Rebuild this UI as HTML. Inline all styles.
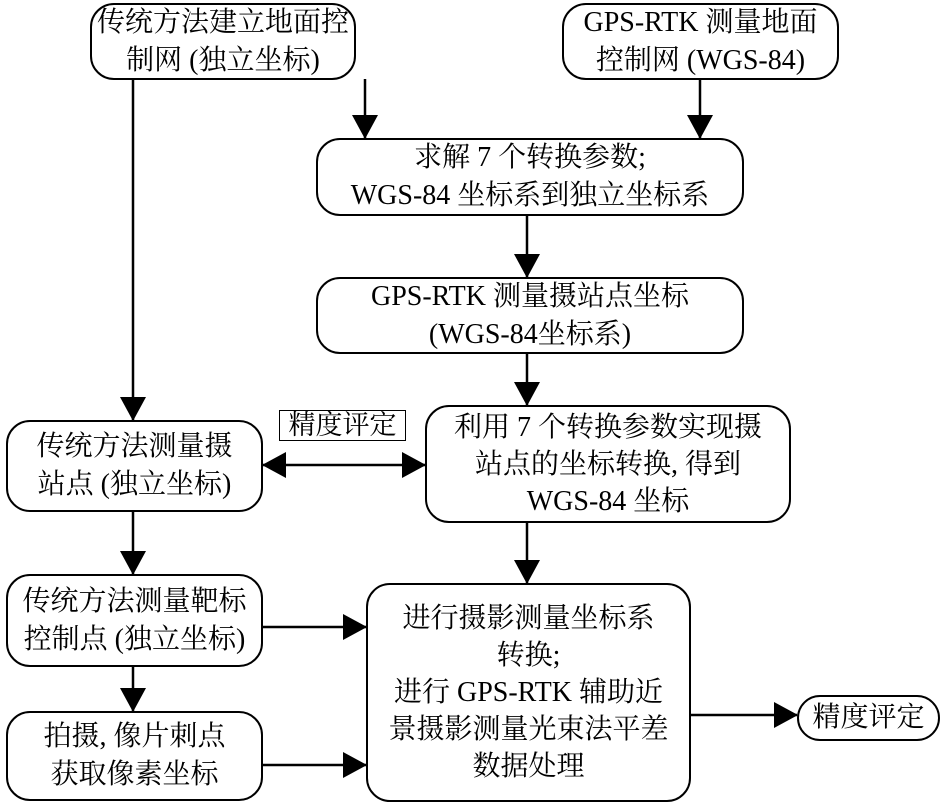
<!DOCTYPE html>
<html><head><meta charset="utf-8"><style>
body{margin:0;width:945px;height:807px;background:#fff;position:relative;overflow:hidden;font-family:"Liberation Serif","Noto Serif CJK SC","Noto Sans CJK SC",serif;color:#000}
.b{position:absolute;box-sizing:border-box;border:2px solid #000;border-radius:24px;display:flex;align-items:center;justify-content:center;text-align:center;font-size:28px;line-height:38px;background:#fff}
svg{position:absolute;left:0;top:0}
</style></head><body>
<svg width="945" height="807">
<defs><marker id="a" markerWidth="10" markerHeight="10" refX="9" refY="5" orient="auto" markerUnits="userSpaceOnUse" viewBox="0 0 10 10"><path d="M0,0L10,5L0,10z"/></marker>
<marker id="h" viewBox="0 0 24 26" refX="23" refY="13" markerWidth="24" markerHeight="26" orient="auto-start-reverse" markerUnits="userSpaceOnUse"><path d="M0,0L24,13L0,26z"/></marker></defs>
<g stroke="#000" stroke-width="2.5" fill="none">
<line x1="133" y1="79" x2="133" y2="420" marker-end="url(#h)"/>
<line x1="365" y1="79" x2="365" y2="138" marker-end="url(#h)"/>
<line x1="700" y1="79" x2="700" y2="138" marker-end="url(#h)"/>
<line x1="527" y1="216" x2="527" y2="277" marker-end="url(#h)"/>
<line x1="527" y1="354" x2="527" y2="405" marker-end="url(#h)"/>
<line x1="263" y1="465" x2="425" y2="465" marker-start="url(#h)" marker-end="url(#h)"/>
<line x1="133" y1="512" x2="133" y2="574" marker-end="url(#h)"/>
<line x1="133" y1="667" x2="133" y2="711" marker-end="url(#h)"/>
<line x1="527" y1="523" x2="527" y2="583" marker-end="url(#h)"/>
<line x1="262" y1="627" x2="366" y2="627" marker-end="url(#h)"/>
<line x1="262" y1="765" x2="366" y2="765" marker-end="url(#h)"/>
<line x1="690" y1="715" x2="797" y2="715" marker-end="url(#h)"/>
</g></svg>
<div class="b" style="left:90px;top:3px;width:266px;height:77px">传统方法建立地面控<br>制网 (独立坐标)</div>
<div class="b" style="left:562px;top:3px;width:277px;height:77px">GPS-RTK 测量地面<br>控制网 (WGS-84)</div>
<div class="b" style="left:316px;top:138px;width:428px;height:78px">求解 7 个转换参数;<br>WGS-84 坐标系到独立坐标系</div>
<div class="b" style="left:316px;top:277px;width:428px;height:77px">GPS-RTK 测量摄站点坐标<br>(WGS-84坐标系)</div>
<div class="b" style="left:6px;top:420px;width:257px;height:92px">传统方法测量摄<br>站点 (独立坐标)</div>
<div style="position:absolute;left:279px;top:410px;width:127px;height:31px;box-sizing:border-box;border:1.5px solid #000;font-size:27px;line-height:28px;text-align:center">精度评定</div>
<div class="b" style="left:425px;top:405px;width:366px;height:118px;line-height:37px">利用 7 个转换参数实现摄<br>站点的坐标转换, 得到<br>WGS-84 坐标</div>
<div class="b" style="left:6px;top:574px;width:257px;height:93px">传统方法测量靶标<br>控制点 (独立坐标)</div>
<div class="b" style="left:6px;top:711px;width:257px;height:90px">拍摄, 像片刺点<br>获取像素坐标</div>
<div class="b" style="left:366px;top:583px;width:325px;height:219px;line-height:37px">进行摄影测量坐标系<br>转换;<br>进行 GPS-RTK 辅助近<br>景摄影测量光束法平差<br>数据处理</div>
<div class="b" style="left:797px;top:695px;width:143px;height:46px">精度评定</div>
</body></html>
